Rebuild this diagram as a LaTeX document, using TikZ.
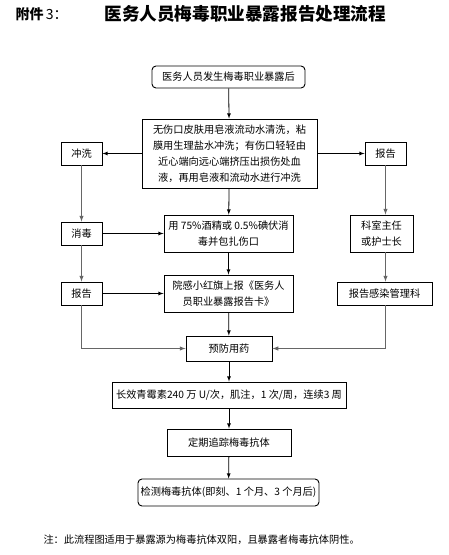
\documentclass[tikz,border=0pt]{standalone}
\usepackage{fontspec}
\usepackage{tikz}
\usetikzlibrary{arrows}
\newfontfamily\cjk{Noto Sans CJK SC}

\begin{document}
\begin{tikzpicture}[x=1pt,y=-1pt, every node/.style={font=\cjk\fontsize{10.2}{16}\selectfont},
  box/.style={draw,line width=0.9pt,align=center,inner sep=0pt},
  rbox/.style={box,rounded corners=4pt},
  arr/.style={-latex,line width=0.8pt},
  garr/.style={-latex,line width=1pt,draw=black!60}]
\useasboundingbox (0,0) rectangle (449,555);

\node[anchor=west,font=\cjk\fontsize{14}{16}\selectfont] (att) at (12,14) {\textbf{附件}\,3：};
\node[anchor=west,font=\cjk\bfseries\fontsize{17.6}{20}\selectfont] (title) at (101,14) {医务人员梅毒职业暴露报告处理流程};

\node[rbox,minimum width=153pt,minimum height=22pt] (start) at (228.5,77) {医务人员发生梅毒职业暴露后};
\node[box,minimum width=175pt,minimum height=69pt] (wash) at (229.5,153.5) {无伤口皮肤用皂液流动水清洗，粘\\膜用生理盐水冲洗；有伤口轻轻由\\近心端向远心端挤压出损伤处血\\液，再用皂液和流动水进行冲洗};
\node[box,minimum width=41pt,minimum height=23pt] (rinse) at (81.5,153.5) {冲洗};
\node[box,minimum width=41pt,minimum height=23pt] (repR) at (385.5,153.5) {报告};

\node[box,minimum width=129pt,minimum height=37pt] (disinf) at (228.5,233.5) {用 75\%酒精或 0.5\%碘伏消\\毒并包扎伤口};
\node[box,minimum width=129pt,minimum height=37pt] (flag) at (228.5,293.5) {院感小红旗上报《医务人\\员职业暴露报告卡》};
\node[box,minimum width=41pt,minimum height=23pt] (dis) at (81.5,233.5) {消毒};
\node[box,minimum width=41pt,minimum height=23pt] (repL) at (81.5,293.5) {报告};
\node[box,minimum width=63pt,minimum height=37pt] (head) at (381.5,233.5) {科室主任\\或护士长};
\node[box,minimum width=95pt,minimum height=23pt] (infect) at (384.5,293.5) {报告感染管理科};

\node[box,minimum width=86pt,minimum height=25pt] (prev) at (229,348.5) {预防用药};
\node[box,minimum width=234pt,minimum height=26pt] (peni) at (229,395) {长效青霉素240 万 U/次，肌注，1 次/周，连续3 周};
\node[box,minimum width=124pt,minimum height=27pt] (track) at (229,442.5) {定期追踪梅毒抗体};
\node[rbox,minimum width=181pt,minimum height=27pt] (test) at (228.5,492.5) {检测梅毒抗体(即刻、1 个月、3 个月后)};

\node[anchor=west] (note) at (40,540) {注：此流程图适用于暴露源为梅毒抗体双阳，且暴露者梅毒抗体阴性。};

% main line
\draw[arr] (start) -- (wash);
\draw[arr] (wash) -- (rinse);
\draw[arr] (wash) -- (repR);
\draw[arr] (wash) -- (disinf);
\draw[arr] (disinf) -- (flag);
\draw[arr] (flag) -- (prev);
\draw[arr] (prev) -- (peni);
\draw[arr] (peni) -- (track);
\draw[arr] (track) -- (test);

% left side
\draw[garr] (rinse) -- (dis);
\draw[garr] (dis) -- (repL);
\draw[arr] (dis) -- (disinf);
\draw[arr] (repL) -- (flag);
\draw[garr] (repL.south) |- (prev.west);

% right side
\draw[garr] (repR.south) -- (repR.south |- head.north);
\draw[garr] (repR.south |- head.south) -- (repR.south |- infect.north);
\draw[garr] (repR.south |- infect.south) |- (prev.east);
\end{tikzpicture}
\end{document}
